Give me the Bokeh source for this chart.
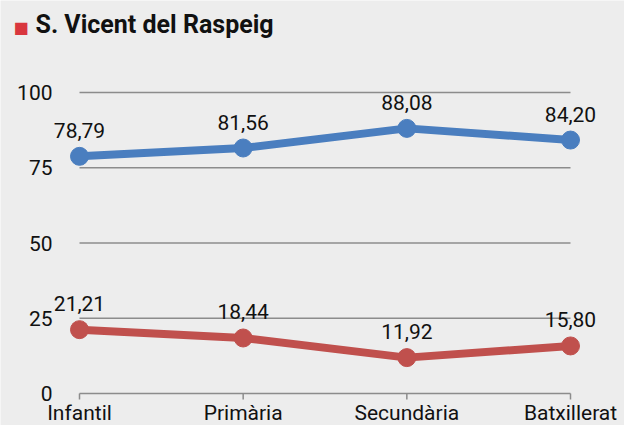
from bokeh.plotting import figure
from bokeh.models import (Range1d, ColumnDataSource, LabelSet, Label)
from bokeh.core.properties import value
from bokeh.embed import file_html
from bokeh.resources import INLINE

# ---- data ----
categories = ["Infantil", "Primària", "Secundària", "Batxillerat"]
series_blue = [78.79, 81.56, 88.08, 84.20]
series_red = [21.21, 18.44, 11.92, 15.80]
y_ticks = [0, 25, 50, 75, 100]
title_text = "S. Vicent del Raspeig"

BG = "#ededed"
BLUE = "#4a7ebf"
RED = "#c0504d"
GRID = "#8c8c8c"
TXT = "#111111"
FONT = "Roboto"

xs = list(range(len(categories)))

# ---- layout (pixels) ----
W, H = 624, 425
ZERO_PX = 393             # pixel row of the zero line
TOP_PX = 92               # pixel row of the top tick
X0_PX, X1_PX = 79, 570    # pixel columns of first / last category
TICK_PX = 6

ppu = (X1_PX - X0_PX) / (xs[-1] - xs[0])
ppy = (ZERO_PX - TOP_PX) / (y_ticks[-1] - y_ticks[0])
x_start = xs[0] - X0_PX / ppu
x_end = xs[-1] + (W - X1_PX) / ppu
y_start = y_ticks[0] - (H - ZERO_PX) / ppy
y_end = y_ticks[-1] + TOP_PX / ppy

p = figure(width=W, height=H, output_backend="svg", toolbar_location=None,
           x_range=Range1d(x_start, x_end), y_range=Range1d(y_start, y_end),
           x_axis_location=None, y_axis_location=None,
           min_border_left=0, min_border_right=0, min_border_top=0,
           min_border_bottom=0)
p.background_fill_color = BG
p.border_fill_color = BG
p.outline_line_color = None
p.xgrid.visible = False
p.ygrid.visible = False

# grid lines (and zero baseline) spanning first..last category
p.segment(x0=[xs[0]] * len(y_ticks), x1=[xs[-1]] * len(y_ticks), y0=y_ticks, y1=y_ticks,
          line_color=GRID, line_width=1.5)
# category tick marks below the baseline
p.segment(x0=xs, x1=xs, y0=[y_ticks[0]] * len(xs),
          y1=[y_ticks[0] - TICK_PX / ppy] * len(xs),
          line_color=GRID, line_width=1.5)

# y tick labels
ysrc = ColumnDataSource(dict(y=y_ticks, t=[str(t) for t in y_ticks]))
p.add_layout(LabelSet(x=52, x_units="screen", y="y", text="t", source=ysrc,
                      text_align="right", text_baseline="middle",
                      text_font=value(FONT), text_font_size=value("21px"),
                      text_color=TXT))

# category labels
csrc = ColumnDataSource(dict(x=xs, y=[y_ticks[0]] * len(xs), c=categories))
p.add_layout(LabelSet(x="x", y="y", text="c", source=csrc, y_offset=-(H - ZERO_PX - 1),
                      text_align="center", text_baseline="bottom",
                      text_font=value(FONT), text_font_size=value("21px"),
                      text_color=TXT))

for vals, col in ((series_blue, BLUE), (series_red, RED)):
    src = ColumnDataSource(dict(x=xs, y=vals,
                                lab=[f"{v:.2f}".replace(".", ",") for v in vals]))
    p.line("x", "y", source=src, line_color=col, line_width=8, line_join="round")
    p.scatter("x", "y", source=src, size=18, fill_color=col, line_color=col)
    p.add_layout(LabelSet(x="x", y="y", text="lab", source=src,
                          y_offset=26, text_align="center", text_baseline="middle",
                          text_font=value(FONT), text_font_size=value("21px"),
                          text_color=TXT))

# title with red square marker (screen units measured from frame bottom-left)
p.add_layout(Label(x=13, y=H - 27, x_units="screen", y_units="screen",
                   text="■", text_color="#d9363e", text_font="DejaVu Sans",
                   text_font_size="16px", text_baseline="middle", text_align="left"))
p.add_layout(Label(x=35, y=H - 24, x_units="screen", y_units="screen",
                   text=title_text, text_color=TXT, text_font=FONT,
                   text_font_size="25px", text_font_style="bold",
                   text_baseline="middle", text_align="left"))

html = file_html(p, INLINE)
open("out.html", "w").write(html)
